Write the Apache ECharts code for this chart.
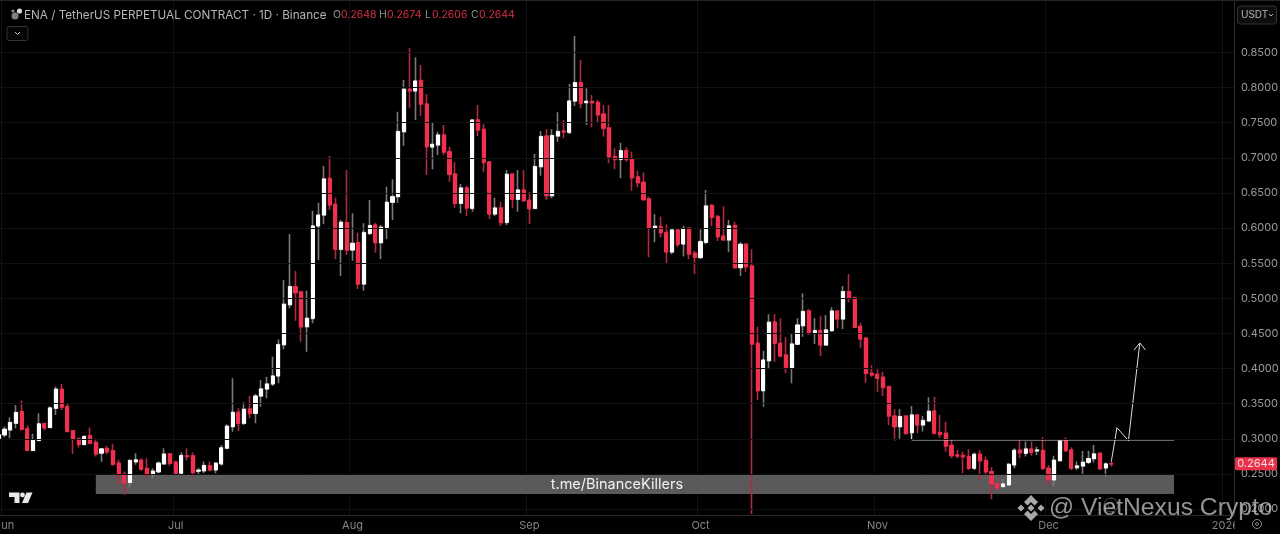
<!DOCTYPE html>
<html><head><meta charset="utf-8">
<style>html,body{margin:0;padding:0;background:#000}#c{width:1280px;height:534px}</style>
<script src="https://cdn.jsdelivr.net/npm/echarts@6/dist/echarts.min.js"></script>
</head><body><div id="c"></div>
<script>
// open, close, low, high — daily, first row is 31 May 2025
const candles = [
[.3009,.3056,.2995,.3071],[.3056,.3137,.3023,.3175],[.3128,.3232,.3009,.3308],[.3222,.3374,.3151,.3483],[.3388,.3137,.3118,.3545],
[.3142,.2834,.2829,.3194],[.2834,.2981,.2824,.3071],[.2976,.3213,.2966,.3365],[.3218,.3156,.3118,.3222],[.3161,.3440,.3151,.3459],
[.3436,.3706,.3341,.3744],[.3706,.3450,.3412,.3782],[.3459,.3104,.3099,.3507],[.3113,.2995,.2786,.3118],[.3004,.2919,.2876,.3009],
[.2919,.3033,.2914,.3052],[.3042,.2938,.2929,.3161],[.2947,.2786,.2748,.3004],[.2796,.2857,.2673,.2867],[.2862,.2815,.2782,.2900],
[.2829,.2639,.2616,.2929],[.2654,.2488,.2360,.2701],[.2497,.2369,.2203,.2535],[.2379,.2692,.2308,.2711],[.2673,.2701,.2630,.2796],
[.2696,.2568,.2549,.2725],[.2578,.2488,.2450,.2725],[.2492,.2540,.2440,.2582],[.2530,.2654,.2511,.2677],[.2644,.2782,.2630,.2867],
[.2786,.2654,.2616,.2796],[.2668,.2511,.2488,.2687],[.2511,.2763,.2488,.2810],[.2758,.2748,.2692,.2867],[.2758,.2521,.2464,.2805],
[.2540,.2554,.2488,.2587],[.2545,.2620,.2511,.2677],[.2616,.2559,.2535,.2677],[.2559,.2654,.2511,.2663],[.2644,.2872,.2616,.2914],
[.2867,.3180,.2853,.3208],[.3173,.3377,.3102,.3861],[.3377,.3221,.3112,.3434],[.3221,.3420,.3197,.3520],[.3425,.3363,.3292,.3615],
[.3363,.3610,.3221,.3638],[.3610,.3710,.3458,.3838],[.3710,.3781,.3577,.3885],[.3781,.3895,.3752,.4170],[.3895,.4341,.3790,.4416],
[.4341,.4915,.4274,.5261],[.4910,.5166,.4858,.5916],[.5166,.5081,.4682,.5389],[.5090,.4597,.4383,.5109],[.4597,.4715,.4241,.5109],
[.4715,.6030,.4644,.6248],[.6030,.6186,.5546,.6362],[.6186,.6699,.6054,.6884],[.6708,.6329,.6258,.7026],[.6338,.5698,.5555,.6433],
[.5698,.6082,.5318,.6115],[.6077,.5688,.5617,.6827],[.5688,.5783,.5536,.6210],[.5793,.5204,.5133,.5935],[.5204,.5935,.5109,.6068],
[.5925,.6035,.5902,.6400],[.6044,.5793,.5650,.6077],[.5793,.6011,.5560,.6044],[.6006,.6367,.5845,.6590],[.6367,.6447,.6115,.6694],
[.6448,.7373,.6362,.7657],[.7373,.7975,.7174,.8108],[.7975,.7952,.7705,.8559],[.7952,.8094,.7539,.8431],[.8099,.7767,.7596,.8322],
[.7767,.7159,.6756,.7909],[.7154,.7192,.6837,.7501],[.7183,.7325,.7041,.7373],[.7325,.7083,.7041,.7468],[.7088,.6765,.6661,.7159],
[.6770,.6353,.6291,.6936],[.6353,.6571,.6210,.6628],[.6571,.6286,.6172,.6599],[.6281,.7539,.6234,.7548],[.7539,.7397,.7311,.7752],
[.7406,.6936,.6794,.7482],[.6941,.6201,.6130,.6955],[.6201,.6286,.6172,.6433],[.6286,.6082,.6030,.6376],[.6082,.6765,.6044,.6827],
[.6770,.6410,.6281,.6780],[.6410,.6542,.6234,.6827],[.6542,.6391,.6376,.6827],[.6395,.6277,.6058,.6519],[.6281,.6875,.6272,.7055],
[.6875,.7302,.6746,.7382],[.7311,.6462,.6400,.7411],[.6462,.7316,.6424,.7406],[.7311,.7373,.7230,.7648],[.7382,.7368,.7278,.7539],
[.7363,.7809,.7340,.8051],[.7809,.8070,.7738,.8735],[.8070,.7776,.7705,.8393],[.7786,.7805,.7468,.7990],[.7800,.7786,.7434,.7895],
[.7786,.7615,.7491,.7824],[.7624,.7420,.7302,.7752],[.7425,.7017,.6922,.7752],[.7017,.6979,.6837,.7136],[.6979,.7102,.6708,.7216],
[.7102,.6979,.6946,.7150],[.6984,.6718,.6533,.7089],[.6728,.6647,.6581,.6818],[.6652,.6405,.6391,.6790],[.6415,.5997,.5584,.6448],
[.5997,.6026,.5798,.6197],[.6021,.5936,.5869,.6163],[.5936,.5660,.5490,.6054],[.5660,.5974,.5627,.5983],[.5974,.5769,.5727,.5983],
[.5774,.5992,.5594,.6035],[.5997,.5632,.5556,.6011],[.5641,.5584,.5347,.5679],[.5580,.5807,.5565,.5983],[.5798,.6315,.5769,.6543],
[.6320,.6154,.6030,.6344],[.6163,.5879,.5817,.6187],[.5888,.5831,.5822,.6306],[.5831,.6030,.5656,.6116],[.6035,.5437,.5428,.6092],
[.5437,.5769,.5319,.5798],[.5769,.5452,.5380,.5784],[.5461,.4350,.1930,.5698],[.4360,.3686,.3553,.4597],[.3686,.4122,.3458,.4255],
[.4113,.4659,.3990,.4773],[.4663,.4360,.4099,.4777],[.4360,.4179,.4160,.4716],[.4194,.4013,.3933,.4445],[.4013,.4350,.3790,.4493],
[.4346,.4621,.4336,.4716],[.4611,.4811,.4455,.5071],[.4820,.4502,.4478,.4848],[.4512,.4540,.4350,.4716],[.4540,.4336,.4179,.4754],
[.4336,.4550,.4322,.4763],[.4540,.4820,.4526,.4872],[.4820,.4706,.4573,.4825],[.4706,.5095,.4564,.5176],[.5095,.5000,.4943,.5347],
[.5010,.4588,.4573,.5024],[.4602,.4421,.4298,.4654],[.4431,.3933,.3800,.4455],[.3933,.3909,.3885,.4047],[.3918,.3862,.3672,.3990],
[.3876,.3733,.3610,.3956],[.3743,.3325,.3197,.3752],[.3325,.3174,.2974,.3420],[.3174,.3316,.3000,.3425],[.3325,.3079,.3055,.3330],
[.3089,.3340,.2984,.3468],[.3340,.3198,.3079,.3354],[.3198,.3259,.3103,.3326],[.3255,.3392,.3245,.3592],[.3397,.3079,.3065,.3601],
[.3089,.3065,.3017,.3340],[.3079,.2899,.2818,.3245],[.2908,.2761,.2723,.2984],[.2771,.2756,.2723,.2842],[.2761,.2747,.2510,.2818],
[.2747,.2581,.2557,.2851],[.2581,.2780,.2557,.2804],[.2780,.2690,.2415,.2842],[.2690,.2533,.2486,.2747],[.2533,.2358,.2140,.2595],
[.2367,.2296,.2272,.2391],[.2320,.2358,.2310,.2424],[.2344,.2638,.2329,.2652],[.2628,.2837,.2581,.2866],[.2837,.2804,.2723,.2975],
[.2794,.2856,.2747,.2961],[.2856,.2809,.2761,.2961],[.2828,.2842,.2771,.2889],[.2832,.2581,.2557,.3022],[.2581,.2415,.2344,.2628],
[.2415,.2695,.2320,.2761],[.2690,.2970,.2676,.2998],[.2984,.2832,.2818,.3022],[.2842,.2581,.2557,.2880],[.2590,.2614,.2557,.2676],
[.2614,.2666,.2500,.2828],[.2666,.2719,.2643,.2832],[.2719,.2785,.2662,.2913],[.2794,.2576,.2557,.2804],[.2586,.2643,.2462,.2662],
[.2648,.2644,.2606,.2674]
];
const yTicks = [.20,.25,.30,.35,.40,.45,.50,.55,.60,.65,.70,.75,.80,.85];
const monthLabels = {'2025-06-01':'Jun','2025-07-01':'Jul','2025-08-01':'Aug','2025-09-01':'Sep','2025-10-01':'Oct','2025-11-01':'Nov','2025-12-01':'Dec','2026-01-01':'2026'};
const supportZone = {from:'2025-06-17', to:'2025-12-23', top:.2500, bottom:.2215, label:'t.me/BinanceKillers'};
const resistance = [['2025-11-07',.3084],['2025-11-07',.2984],['2025-12-23',.2984]];
const arrowPath = [['2025-12-12',.2675],['2025-12-13',.3159],['2025-12-15',.2974],['2025-12-17',.4365]];
const arrowHead = [['2025-12-16',.4265],['2025-12-17',.4365],['2025-12-18',.4265]];
const ohlcText = {O:'0.2648',H:'0.2674',L:'0.2606',C:'0.2644'};
const lastClose = .2644;

const pad = n => String(n).padStart(2,'0');
const dates = [];
for (let d = new Date(Date.UTC(2025,4,31)); dates.length < 217; d.setUTCDate(d.getUTCDate()+1))
  dates.push(d.getUTCFullYear()+'-'+pad(d.getUTCMonth()+1)+'-'+pad(d.getUTCDate()));

const FONT = 'Inter, "Liberation Sans", sans-serif';
const UP='#ffffff', DOWN='#f0304e', UPW='#7a7a7a', DOWNW='#b02a40', GRID='#111111', EDGE='#2b2b2b';
const bodies = candles.map(c=>[c[0],c[1],Math.min(c[0],c[1]),Math.max(c[0],c[1])]);
const thin = {type:'line', showSymbol:false, symbol:'none', silent:true, z:4, animation:false, lineStyle:{color:'#dcdcdc',width:1}};

const chart = echarts.init(document.getElementById('c'),null,{renderer:'canvas'});
const rt = (x,y,t,s)=>({type:'text',z:20,silent:true,x,y,style:Object.assign({text:t,fontFamily:FONT,fill:'#b5b5b5',fontSize:11.7,verticalAlign:'middle'},s||{})});
const poly = (pts,fill,z)=>({type:'polygon',z:z||20,silent:true,shape:{points:pts},style:{fill}});
const WM='#a8a8a8';

chart.setOption({
  backgroundColor:'#000',
  animation:false,
  grid:{left:-4.05,width:1238,top:0,height:515,containLabel:false,outerBoundsMode:'none'},
  xAxis:{type:'category',data:dates,boundaryGap:true,z:1,
    axisLine:{show:true,lineStyle:{color:EDGE}},
    axisTick:{show:false},
    splitLine:{show:true,interval:(i,v)=>!!monthLabels[v],lineStyle:{color:GRID}},
    axisLabel:{interval:(i,v)=>!!monthLabels[v],formatter:v=>monthLabels[v]||'',color:'#858585',fontSize:11,fontFamily:FONT,margin:5,hideOverlap:false}},
  yAxis:{type:'value',position:'right',min:.1916,max:.9247,scale:true,z:6,
    axisLine:{show:true,lineStyle:{color:EDGE}},
    axisTick:{show:false,customValues:yTicks},
    splitLine:{show:true,lineStyle:{color:GRID}},
    axisLabel:{customValues:yTicks,formatter:v=>v.toFixed(4),color:'#9a9a9a',fontSize:11,fontFamily:FONT,margin:7}},
  series:[
    {name:'wicks',type:'candlestick',data:candles,barWidth:3,z:2,silent:true,
      itemStyle:{color:UP,color0:DOWN,borderColor:UPW,borderColor0:DOWNW,borderWidth:1.6},
      markArea:{silent:true,
        itemStyle:{color:'#5a5a5a'},
        label:{show:true,position:'inside',offset:[-18,1],color:'#f2f2f2',fontSize:14.5,fontFamily:FONT,formatter:supportZone.label},
        data:[[{xAxis:supportZone.from,yAxis:supportZone.top},{xAxis:supportZone.to,yAxis:supportZone.bottom}]]}},
    {name:'bodies',type:'candlestick',data:bodies,barWidth:3.6,z:3,silent:true,
      itemStyle:{color:UP,color0:DOWN,borderColor:UP,borderColor0:DOWN,borderWidth:1}},
    Object.assign({name:'resistance',data:resistance},thin),
    Object.assign({name:'arrow',data:arrowPath},thin),
    Object.assign({name:'arrowhead',data:arrowHead},thin)
  ],
  graphic:{elements:[
    {type:'rect',z:2,silent:true,shape:{x:1235,y:0,width:45,height:534},style:{fill:'#000'}},
    {type:'rect',z:7,silent:true,shape:{x:0,y:0,width:1280,height:1},style:{fill:'#262626'}},
    // header
    {type:'circle',z:20,silent:true,shape:{cx:15,cy:16,r:3.5},style:{fill:'#7f7f7f'}},
    {type:'circle',z:20,silent:true,shape:{cx:19.5,cy:11,r:2.6},style:{fill:'#d8d8d8'}},
    {type:'circle',z:20,silent:true,shape:{cx:13,cy:11,r:1.6},style:{fill:'#8a8a8a'}},
    rt(24,15,'ENA / TetherUS PERPETUAL CONTRACT · 1D · Binance'),
    rt(333,15,'O',{fontSize:10.5,fill:'#8d8d8d'}),rt(341,15,ohlcText.O,{fontSize:10.5,fill:'#d93045'}),
    rt(379,15,'H',{fontSize:10.5,fill:'#8d8d8d'}),rt(387,15,ohlcText.H,{fontSize:10.5,fill:'#d93045'}),
    rt(425,15,'L',{fontSize:10.5,fill:'#8d8d8d'}),rt(432,15,ohlcText.L,{fontSize:10.5,fill:'#d93045'}),
    rt(471,15,'C',{fontSize:10.5,fill:'#8d8d8d'}),rt(479,15,ohlcText.C,{fontSize:10.5,fill:'#d93045'}),
    {type:'rect',z:20,silent:true,shape:{x:7,y:26.5,width:21,height:14,r:2},style:{fill:'#060606',stroke:'#333',lineWidth:1}},
    {type:'polyline',z:21,silent:true,shape:{points:[[15,32],[17.5,34.5],[20,32]]},style:{fill:'none',stroke:'#c4c4c4',lineWidth:1}},
    // USDT button
    {type:'rect',z:20,silent:true,shape:{x:1237.5,y:6,width:39,height:18,r:3},style:{fill:'#0d0d0d',stroke:'#333',lineWidth:1}},
    rt(1241,15,'USDT',{fontSize:10,fill:'#b5b5b5'}),
    {type:'polyline',z:21,silent:true,shape:{points:[[1269,14],[1271,16],[1273,14]]},style:{fill:'none',stroke:'#b5b5b5',lineWidth:1}},
    // TV logo
    poly([[9,492.5],[19.5,492.5],[19.5,503],[14.5,503],[14.5,497],[9,497]],'#e9e9e9'),
    poly([[26.5,492.5],[32.5,492.5],[28,503],[22,503]],'#e9e9e9'),
    {type:'circle',z:20,silent:true,shape:{cx:22.5,cy:495,r:2.4},style:{fill:'#e9e9e9'}},
    // watermark
    {type:'circle',z:20,silent:true,shape:{cx:1111,cy:505,r:7},style:{fill:'none',stroke:'#555',lineWidth:1}},
    {type:'circle',z:20,silent:true,shape:{cx:1111,cy:505,r:3},style:{fill:'none',stroke:'#444',lineWidth:1}},
    poly([[1031,495],[1038,502],[1034.5,505.5],[1031,502],[1027.5,505.5],[1024,502]],WM),
    poly([[1021,504.5],[1024.5,508],[1021,511.5],[1017.5,508]],WM),
    poly([[1041,504.5],[1044.5,508],[1041,511.5],[1037.5,508]],WM),
    poly([[1031,504.5],[1034.5,508],[1031,511.5],[1027.5,508]],WM),
    poly([[1031,521],[1024,514],[1027.5,510.5],[1031,514],[1034.5,510.5],[1038,514]],WM),
    rt(1049,508,'@ VietNexus Crypto',{fontSize:24.7,fontFamily:'"Liberation Sans",Arial,sans-serif',fill:'rgba(200,200,200,0.74)'}),
    // gear
    {type:'circle',z:20,silent:true,shape:{cx:1257,cy:524,r:4.5},style:{fill:'none',stroke:'#8a8a8a',lineWidth:1}},
    {type:'circle',z:20,silent:true,shape:{cx:1257,cy:524,r:1.5},style:{fill:'none',stroke:'#8a8a8a',lineWidth:1}},
    // last-price tag (placed from the y scale below)
    {id:'tag',type:'rect',z:18,silent:true,shape:{x:1235,y:0,width:42,height:13,r:1.5},style:{fill:'#e8324c'}},
    {id:'tagt',type:'text',z:19,silent:true,x:1256,y:0,style:{text:lastClose.toFixed(4),fontFamily:FONT,fontSize:11,fill:'#f5d9dd',align:'center',verticalAlign:'middle'}}
  ]}
});
const tagY = chart.convertToPixel({yAxisIndex:0},lastClose);
chart.setOption({graphic:{elements:[
  {id:'tag',shape:{y:tagY-6.5}},
  {id:'tagt',y:tagY}
]}});
</script></body></html>
